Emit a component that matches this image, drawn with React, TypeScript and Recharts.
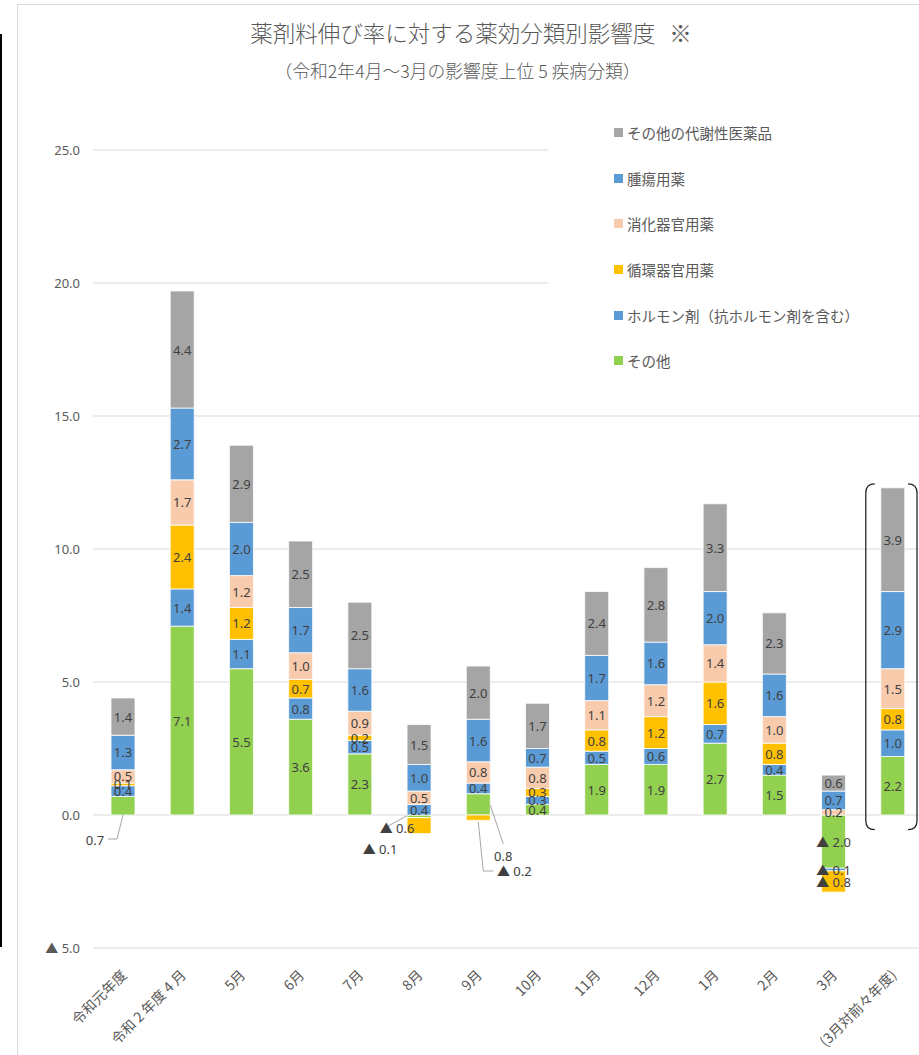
import React from 'react';
import { BarChart, Bar, XAxis, YAxis, CartesianGrid, LabelList, ReferenceArea } from 'recharts';

// 区分（横軸）
const categories = [
  '令和元年度', '令和 2 年度 4 月', '5月', '6月', '7月', '8月', '9月',
  '10月', '11月', '12月', '1月', '2月', '3月', '(3月対前々年度)',
];

// 薬効分類別の影響度（積み上げ順：下から）
const sonota = [0.7, 7.1, 5.5, 3.6, 2.3, -0.1, 0.8, 0.4, 1.9, 1.9, 2.7, 1.5, -2.0, 2.2];
const hormone = [0.4, 1.4, 1.1, 0.8, 0.5, 0.4, 0.4, 0.3, 0.5, 0.6, 0.7, 0.4, -0.1, 1.0];
const junkanki = [0.1, 2.4, 1.2, 0.7, 0.2, -0.6, -0.2, 0.3, 0.8, 1.2, 1.6, 0.8, -0.8, 0.8];
const shokaki = [0.5, 1.7, 1.2, 1.0, 0.9, 0.5, 0.8, 0.8, 1.1, 1.2, 1.4, 1.0, 0.2, 1.5];
const shuyo = [1.3, 2.7, 2.0, 1.7, 1.6, 1.0, 1.6, 0.7, 1.7, 1.6, 2.0, 1.6, 0.7, 2.9];
const taisha = [1.4, 4.4, 2.9, 2.5, 2.5, 1.5, 2.0, 1.7, 2.4, 2.8, 3.3, 2.3, 0.6, 3.9];

const yTicks = [-5, 0, 5, 10, 15, 20, 25];

const series = [
  { key: 'sonota', name: 'その他', color: '#92D050', values: sonota },
  { key: 'hormone', name: 'ホルモン剤（抗ホルモン剤を含む）', color: '#5B9BD5', values: hormone },
  { key: 'junkanki', name: '循環器官用薬', color: '#FFC000', values: junkanki },
  { key: 'shokaki', name: '消化器官用薬', color: '#F8CBAD', values: shokaki },
  { key: 'shuyo', name: '腫瘍用薬', color: '#5B9BD5', values: shuyo },
  { key: 'taisha', name: 'その他の代謝性医薬品', color: '#A5A5A5', values: taisha },
];

const chartData = categories.map((c, i) => {
  const row: any = { name: c };
  series.forEach((s) => { row[s.key] = s.values[i]; });
  return row;
});

const FONT = '"Noto Sans", "Noto Sans CJK JP", sans-serif';
const JP = '"Noto Sans CJK JP", "Noto Sans", sans-serif';

const fmt = (v: number) => (v < 0 ? `▲ ${Math.abs(v).toFixed(1)}` : v.toFixed(1));

// ラベルを棒の外に出すもの（引き出し線つき）
const outside: Record<string, { dx: number; dy: number; from: 'top' | 'bottom'; leader?: number[][] }> = {
  'sonota-0': { dx: -28, dy: 25, from: 'bottom', leader: [[-15, 24], [-6, 24], [0, 0]] },
  'junkanki-5': { dx: -22, dy: 10, from: 'top', leader: [[-32, 9], [-12, -2]] },
  'sonota-5': { dx: -39, dy: 34, from: 'top' },
  'sonota-6': { dx: 25, dy: 41, from: 'bottom', leader: [[12, -10], [25, 29]] },
  'junkanki-6': { dx: 36, dy: 56, from: 'top', leader: [[0, 7], [5, 56], [15, 56]] },
};

const makeLabel = (key: string, values: number[]) => (props: any) => {
  const vb = props.viewBox || props;
  const x = Number(props.x ?? vb.x);
  const y = Number(props.y ?? vb.y);
  const w = Number(props.width ?? vb.width);
  const h = Number(props.height ?? vb.height);
  const idx = props.index;
  const v = values[idx];
  if (v === undefined || v === 0) return null;
  const cx = x + w / 2;
  const top = Math.min(y, y + h);
  const bottom = Math.max(y, y + h);
  const o = outside[`${key}-${idx}`];
  if (o) {
    const baseY = o.from === 'top' ? top : bottom;
    return (
      <g>
        {o.leader && (
          <polyline
            points={o.leader.map((p) => `${cx + p[0]},${baseY + p[1]}`).join(' ')}
            fill="none"
            stroke="#a6a6a6"
            strokeWidth={1}
          />
        )}
        <text x={cx + o.dx} y={baseY + o.dy} textAnchor="middle" dominantBaseline="central"
          fontSize={13} fill="#404040" fontFamily={FONT}>
          {fmt(v)}
        </text>
      </g>
    );
  }
  return (
    <text x={cx} y={(top + bottom) / 2} textAnchor="middle" dominantBaseline="central"
      fontSize={13} fill="#404040" fontFamily={FONT}>
      {fmt(v)}
    </text>
  );
};

const XTick = (props: any) => {
  const { x, y, payload } = props;
  const ax = x + 5;
  const ay = y + 28;
  return (
    <text x={ax} y={ay} textAnchor="end" transform={`rotate(-45, ${ax}, ${ay})`}
      fontSize={14} fill="#595959" fontFamily={JP}>
      {payload.value}
    </text>
  );
};

const Bracket = (props: any) => {
  const { x, y, width, height } = props;
  const l = x + 3;
  const r = x + width - 5;
  const t = y;
  const b = y + height;
  const k = 9;
  const d = `M ${l + k} ${t} Q ${l} ${t} ${l} ${t + k} L ${l} ${b - k} Q ${l} ${b} ${l + k} ${b}
    M ${r - k} ${t} Q ${r} ${t} ${r} ${t + k} L ${r} ${b - k} Q ${r} ${b} ${r - k} ${b}`;
  return <path d={d} fill="none" stroke="#262626" strokeWidth={1.3} />;
};

export default function App() {
  const legendItems = [...series].reverse();
  return (
    <div style={{ position: 'absolute', left: 0, top: 0, width: 919, height: 1055, overflow: 'hidden', background: '#fff', fontFamily: FONT }}>
      {/* 枠線 */}
      <div style={{ position: 'absolute', left: 17, top: 4, width: 1000, height: 1100, borderTop: '1px solid #d9d9d9', borderLeft: '1px solid #d9d9d9' }} />
      <div style={{ position: 'absolute', left: 0, top: 34, width: 2, height: 913, background: '#000' }} />

      <div style={{ position: 'absolute', left: 0, width: 942, top: 16, textAlign: 'center', fontFamily: JP, fontSize: 22.5, color: '#595959', fontWeight: 300, lineHeight: '32px' }}>
        薬剤料伸び率に対する薬効分類別影響度<span style={{ marginLeft: 14 }}>※</span>
      </div>
      <div style={{ position: 'absolute', left: 0, width: 915, top: 57, textAlign: 'center', fontFamily: JP, fontSize: 17.8, color: '#595959', fontWeight: 300, lineHeight: '26px' }}>
        （令和2年4月～3月の影響度上位 5 疾病分類）
      </div>

      <div style={{ position: 'absolute', left: 0, top: 0 }}>
        <BarChart width={940} height={1055} data={chartData} stackOffset="sign" barSize={24}
          margin={{ top: 150, right: 18, left: 0, bottom: 0 }}>
          <CartesianGrid vertical={false} stroke="#d9d9d9" />
          <XAxis dataKey="name" interval={0} axisLine={false} tickLine={false} tickSize={0} tickMargin={0}
            height={107} tick={<XTick />} />
          <YAxis domain={[-5, 25]} ticks={yTicks} width={93} axisLine={false} tickLine={false}
            tickSize={0} tickMargin={13} tickFormatter={fmt}
            tick={{ fontSize: 13, fill: '#595959', fontFamily: FONT }} />
          {series.map((s) => (
            <Bar key={s.key} dataKey={s.key} name={s.name} stackId="a" fill={s.color}
              stroke="#ffffff" strokeWidth={0.8} isAnimationActive={false}>
              <LabelList dataKey={s.key} content={makeLabel(s.key, s.values)} />
            </Bar>
          ))}
          <ReferenceArea x1={categories[13]} x2={categories[13]} y1={-0.55} y2={12.45}
            shape={<Bracket />} ifOverflow="visible" />
        </BarChart>
      </div>

      {/* 凡例 */}
      <div style={{ position: 'absolute', left: 548, top: 110, width: 380, height: 275, background: '#fff' }}>
        {legendItems.map((s) => (
          <div key={s.key} style={{ height: 45.6, display: 'flex', alignItems: 'center', paddingLeft: 66 }}>
            <span style={{ width: 9, height: 9, background: s.color, marginRight: 4, flexShrink: 0 }} />
            <span style={{ fontFamily: JP, fontSize: 14.5, color: '#595959', whiteSpace: 'nowrap' }}>{s.name}</span>
          </div>
        ))}
      </div>
    </div>
  );
}
